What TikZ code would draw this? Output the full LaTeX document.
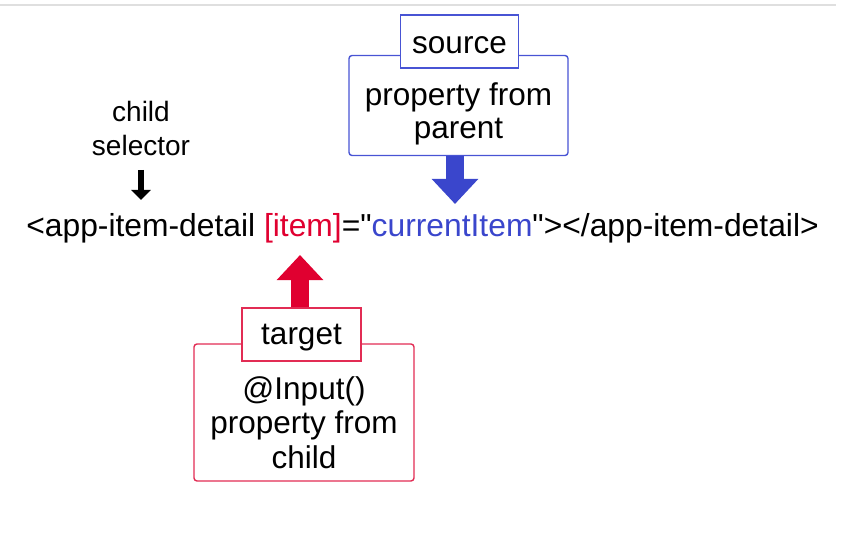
\documentclass[tikz,border=0pt]{standalone}
\usepackage{fontspec}
\setmainfont{Liberation Sans}
\usetikzlibrary{arrows.meta}
\definecolor{srcblue}{RGB}{58,70,204}
\definecolor{srcline}{RGB}{72,84,212}
\definecolor{tgtred}{RGB}{224,0,48}
\definecolor{tgtline}{RGB}{226,44,84}
\tikzset{
  bigbox/.style={draw, line width=1.4pt, rounded corners=3pt, fill=white},
  tagbox/.style={draw, line width=1.4pt, fill=white},
  txt/.style={align=center, font=\fontsize{31.5}{34}\selectfont},
  blockarrow/.style={line width=18pt, -{Triangle[length=25pt,width=45pt]}}
}
\begin{document}
\begin{tikzpicture}[x=1pt,y=-1pt]
  %Cadre
  \useasboundingbox (0,0) rectangle (848,537);
  \draw [gray!25, line width=1.2pt] (0,5) -- (836,5);
  %Source
  \node [bigbox, draw=srcline, minimum width=219pt, minimum height=100pt] (srcbox) at (458.5,105.5) {};
  \node [txt] (srctext) at (458.5,114) {property from\\[-1pt]parent};
  \node [tagbox, draw=srcline, minimum width=118pt, minimum height=53pt] (srctag) at (459.5,41.5) {};
  \node [txt] (srclabel) at (459.5,45) {source};
  %Target
  \node [bigbox, draw=tgtline, minimum width=220pt, minimum height=137pt] (tgtbox) at (304,412.5) {};
  \node [txt] (tgttext) at (304,422.5) {@Input()\\[0.5pt]property from\\[0.5pt]child};
  \node [tagbox, draw=tgtline, minimum width=119pt, minimum height=53pt] (tgttag) at (301.5,334.5) {};
  \node [txt] (tgtlabel) at (301.5,338) {target};
  %Ligne de code
  \node [txt, font=\fontsize{31.8}{34}\selectfont, anchor=base] (code) at (422.5,237)
    {<app-item-detail \textcolor{tgtred}{[item]}=\textquotedbl\textcolor{srcblue}{currentItem}\textquotedbl></app-item-detail>};
  \node [align=center, font=\fontsize{28}{34}\selectfont] (selector) at (141,128) {child\\selector};
  %Fleches
  \coordinate (bluetip) at (455,204);
  \coordinate (redtip) at (300,255);
  \coordinate (blackstart) at (141,170);
  \coordinate (blacktip) at (141,200);
  \draw [blockarrow, srcblue] (bluetip |- srcbox.south) -- (bluetip);
  \draw [blockarrow, tgtred] (redtip |- tgttag.north) -- (redtip);
  \draw [line width=6pt, -{Triangle[length=10pt,width=19pt]}] (blackstart) -- (blacktip);
\end{tikzpicture}
\end{document}
